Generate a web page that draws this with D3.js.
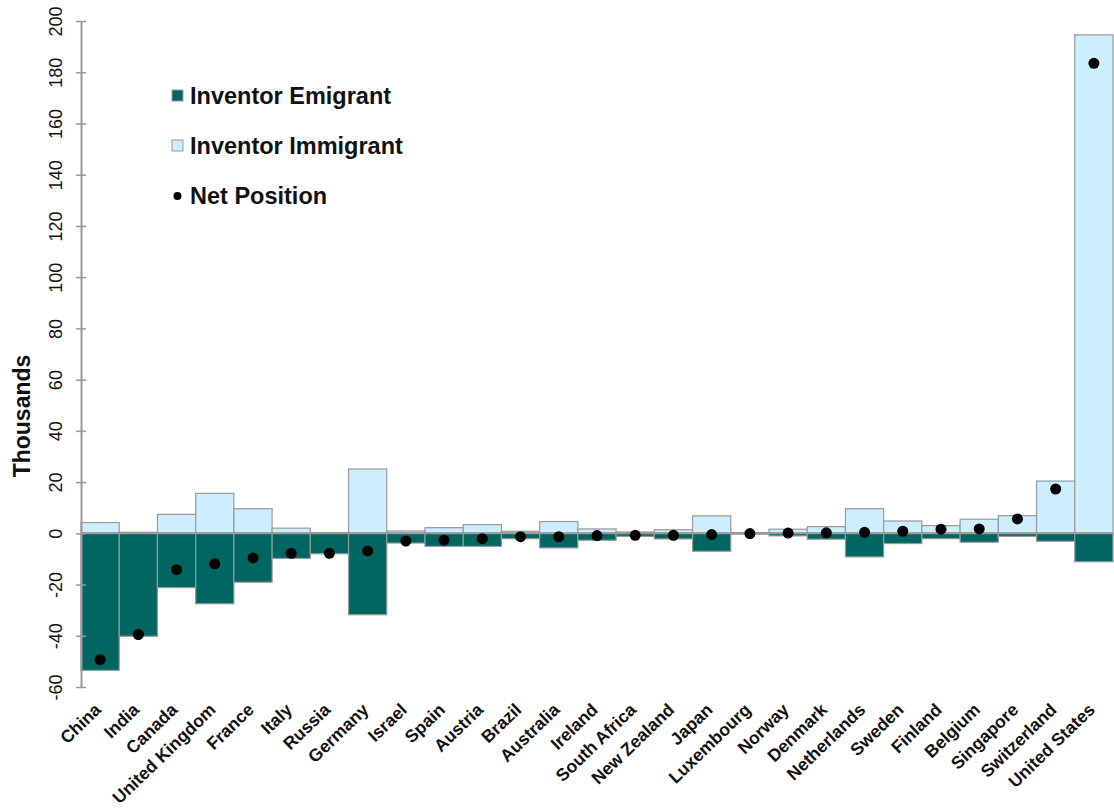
<!DOCTYPE html>
<html>
<head>
<meta charset="utf-8">
<script src="https://cdn.jsdelivr.net/npm/d3@7"></script>
<style>
  body { margin: 0; background: #fff; }
  text { font-family: "Liberation Sans", Arial, sans-serif; }
</style>
</head>
<body>
<svg id="chart" width="1114" height="812"></svg>
<script>
// values in thousands
const countries = ["China", "India", "Canada", "United Kingdom", "France", "Italy", "Russia",
  "Germany", "Israel", "Spain", "Austria", "Brazil", "Australia", "Ireland", "South Africa",
  "New Zealand", "Japan", "Luxembourg", "Norway", "Denmark", "Netherlands", "Sweden",
  "Finland", "Belgium", "Singapore", "Switzerland", "United States"];
const immigrant = [4.2, 0.4, 7.4, 15.6, 9.6, 2.0, 0.3, 25.1, 0.9, 2.2, 3.4, 0.8, 4.6, 1.7, 0.5,
  1.4, 6.8, 0.3, 1.6, 2.6, 9.6, 4.8, 3.0, 5.5, 6.9, 20.4, 194.6];
const emigrant = [53.5, 40.2, 21.2, 27.5, 19.1, 9.8, 8.0, 31.8, 3.8, 5.1, 5.1, 2.1, 5.7, 2.7, 1.2,
  2.2, 7.0, 0.3, 1.0, 2.3, 9.2, 4.0, 2.1, 3.5, 1.2, 3.1, 11.1];
const net = [-49.3, -39.5, -14.2, -11.9, -9.6, -7.8, -7.8, -6.9, -3.0, -2.7, -2.1, -1.3, -1.3, -0.9, -0.8,
  -0.8, -0.5, -0.1, 0.1, 0.2, 0.4, 0.8, 1.6, 1.7, 5.6, 17.3, 183.5];
const yTicks = [-60, -40, -20, 0, 20, 40, 60, 80, 100, 120, 140, 160, 180, 200];

const emiColor = "#006662";
const immColor = "#cdeeff";
const lineColor = "#999999";

const svg = d3.select("#chart");

const x = d3.scaleBand()
  .domain(countries)
  .range([81, 1113])
  .padding(0);

const y = d3.scaleLinear()
  .domain([-60, 200])
  .range([687, 21]);

// immigrant bars (up)
svg.selectAll(".imm")
  .data(countries)
  .enter()
  .append("rect")
  .attr("class", "imm")
  .attr("x", d => x(d))
  .attr("y", (d, i) => y(immigrant[i]))
  .attr("width", x.bandwidth())
  .attr("height", (d, i) => y(0) - y(immigrant[i]))
  .style("fill", immColor)
  .style("stroke", lineColor)
  .style("stroke-width", 1.2);

// emigrant bars (down)
svg.selectAll(".emi")
  .data(countries)
  .enter()
  .append("rect")
  .attr("class", "emi")
  .attr("x", d => x(d))
  .attr("y", y(0))
  .attr("width", x.bandwidth())
  .attr("height", (d, i) => y(-emigrant[i]) - y(0))
  .style("fill", emiColor)
  .style("stroke", lineColor)
  .style("stroke-width", 1.2);

// zero line
svg.append("line")
  .attr("x1", x.range()[0])
  .attr("x2", x.range()[1])
  .attr("y1", y(0))
  .attr("y2", y(0))
  .style("stroke", lineColor)
  .style("stroke-width", 2);

// net position dots
svg.selectAll(".net")
  .data(countries)
  .enter()
  .append("circle")
  .attr("class", "net")
  .attr("cx", d => x(d) + x.bandwidth() / 2)
  .attr("cy", (d, i) => y(net[i]))
  .attr("r", 5.5)
  .style("fill", "#000");

// y axis
const yAxis = svg.append("g")
  .attr("transform", "translate(81,0)")
  .call(d3.axisLeft(y).tickValues(yTicks).tickFormat(d => String(d))
    .tickSize(5).tickSizeOuter(0).tickPadding(0));
yAxis.select(".domain").style("stroke", lineColor).style("stroke-width", 2);
yAxis.selectAll(".tick line").attr("x1", -5).attr("x2", 5).style("stroke", lineColor).style("stroke-width", 1.5);
yAxis.selectAll(".tick text")
  .attr("x", null).attr("dy", null)
  .attr("transform", "translate(-19,0) rotate(-90)")
  .attr("text-anchor", "middle")
  .style("font-size", "18px")
  .style("fill", "#111");

svg.append("text")
  .attr("transform", "translate(30,416) rotate(-90)")
  .attr("text-anchor", "middle")
  .style("font-size", "23px")
  .style("font-weight", "bold")
  .style("fill", "#111")
  .text("Thousands");

// x labels
svg.selectAll(".xlab")
  .data(countries)
  .enter()
  .append("text")
  .attr("class", "xlab")
  .attr("transform", d => `translate(${x(d) + x.bandwidth() / 2 + 2},711) rotate(-44)`)
  .attr("text-anchor", "end")
  .style("font-size", "17.5px")
  .style("font-weight", "bold")
  .style("fill", "#111")
  .text(d => d);

// legend
const legendItems = ["Inventor Emigrant", "Inventor Immigrant", "Net Position"];
const legend = svg.append("g").attr("transform", "translate(172,85)");

legend.append("rect")
  .attr("x", 0).attr("y", 5).attr("width", 11).attr("height", 11)
  .style("fill", emiColor).style("stroke", lineColor);
legend.append("rect")
  .attr("x", 0).attr("y", 55).attr("width", 11).attr("height", 11)
  .style("fill", immColor).style("stroke", lineColor);
legend.append("circle")
  .attr("cx", 5.5).attr("cy", 111).attr("r", 4)
  .style("fill", "#000");

legend.selectAll(".ltext")
  .data(legendItems)
  .enter()
  .append("text")
  .attr("class", "ltext")
  .attr("x", 18)
  .attr("y", (d, i) => 19 + i * 50)
  .style("font-size", "23.5px")
  .style("font-weight", "bold")
  .style("fill", "#111")
  .text(d => d);
</script>
</body>
</html>
